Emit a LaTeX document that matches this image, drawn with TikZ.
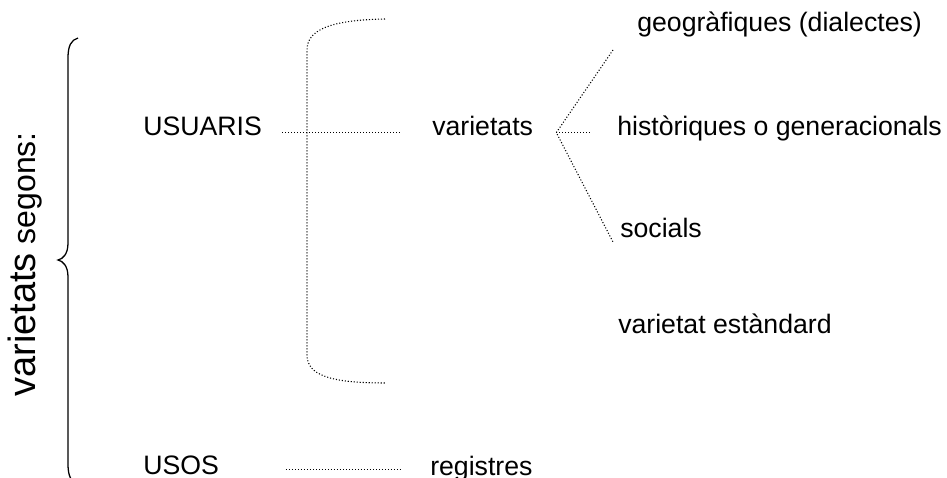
\documentclass[tikz,border=0pt]{standalone}
\usepackage{fontspec}
\setmainfont{Liberation Sans}
\usetikzlibrary{calc}
\begin{document}
\begin{tikzpicture}[x=0.75pt,y=-0.75pt,
  lbl/.style={inner sep=0pt,anchor=base west,font=\fontsize{20}{24}\selectfont,
              text height=0.72em,text depth=0.21em},
  dotline/.style={line width=0.8pt,dash pattern=on 0.8pt off 1.45pt,color=black},
  bracefont/.style={line width=0.95pt}]
\useasboundingbox (0,0) rectangle (947,478);

% rotated title
\node[inner sep=0pt,anchor=base west,rotate=90] (title) at (36,397)
  {\fontsize{28.5}{32}\selectfont varietats\fontsize{24}{28}\selectfont\ segons:};

% curly brace
\draw[bracefont] (78,38) .. controls (71,40) and (68,46) .. (68,58) -- (68,243)
  .. controls (68,254) and (63,259) .. (58,260)
  .. controls (63,261) and (68,266) .. (68,277) -- (68,464)
  .. controls (68,476) and (71,482) .. (78,484);

% text labels
\node[lbl] (usuaris) at (143,136) {USUARIS};
\node[lbl] (var) at (432,136) {varietats};
\node[lbl] (geo) at (637,32) {geogràfiques (dialectes)};
\node[lbl] (hist) at (617,136) {històriques o generacionals};
\node[lbl] (soc) at (620,237) {socials};
\node[lbl] (std) at (618,333) {varietat estàndard};
\node[lbl,text depth=0pt] (usos) at (143,474) {USOS};
\node[lbl] (reg) at (430,475) {registres};

% dotted bracket
\coordinate (btop) at (385,19);
\coordinate (bbot) at (385,383);
\draw[dotline] (btop) .. controls (330,20) and (307,30) .. (307,50)
  -- (307,355) .. controls (307,375) and (330,383) .. (bbot);

% connectors
\draw[dotline,shorten <=15pt,shorten >=24pt] (usuaris.east) -- (var.west);
\draw[dotline,shorten <=50pt,shorten >=22pt] (usos.east) -- (usos.east -| reg.west);

% fan from varietats
\coordinate (fan) at ($(var.east)+(23,0)$);
\coordinate (ftop) at (613,50);
\coordinate (fmid) at ($(hist.west)+(-25,0)$);
\coordinate (fbot) at (613,242);
\draw[dotline] (ftop) -- (fan) -- (fbot);
\draw[dotline] (fan) -- (fmid);
\end{tikzpicture}
\end{document}
